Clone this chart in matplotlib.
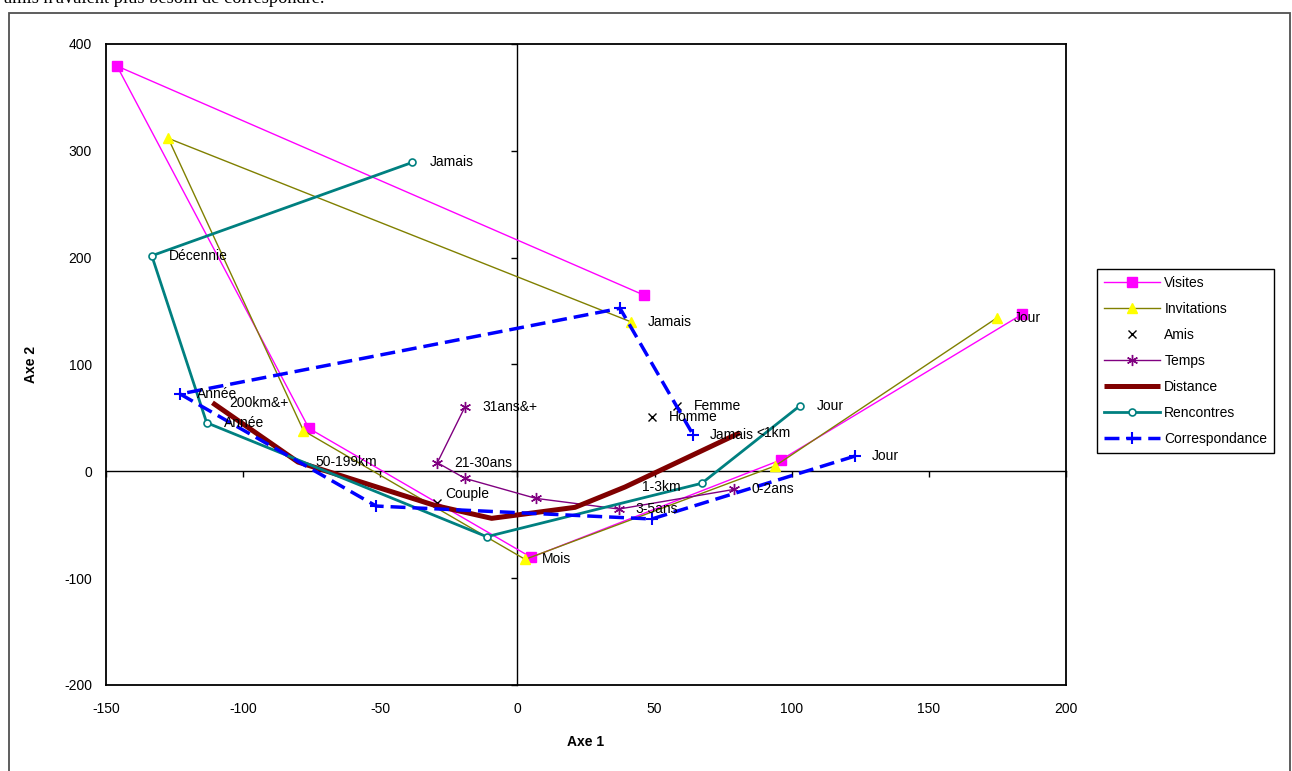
import matplotlib.pyplot as plt
from matplotlib.patches import Rectangle

plt.rcParams['font.family'] = ['Liberation Sans', 'DejaVu Sans']
plt.rcParams['font.size'] = 10
plt.rcParams['axes.unicode_minus'] = False

# Coordonnées des modalités sur les axes 1 et 2
visites_x = [184.0, 96.0, 5.0, -76.0, -146.0, 46.1]
visites_y = [147.0, 10.6, -80.5, 40.2, 379.4, 165.0]
visites_lab = [None, None, None, None, None, None]

invit_x = [174.8, 93.9, 2.8, -78.0, -127.3, 41.3]
invit_y = [143.6, 5.0, -82.4, 38.0, 311.7, 140.0]
invit_lab = ['Jour', None, 'Mois', None, None, 'Jamais']

amis_x = [58.1, 49.2, -29.2]
amis_y = [61.4, 51.1, -30.0]
amis_lab = ['Femme', 'Homme', 'Couple']

temps_x = [79.0, 37.0, 6.7, -19.1, -29.2, -19.1]
temps_y = [-16.9, -35.3, -25.3, -6.6, 8.1, 60.5]
temps_lab = ['0-2ans', '3-5ans', None, None, '21-30ans', '31ans&+']

dist_x = [-111.2, -80.0, -30.0, -9.4, 21.0, 39.2, 81.1]
dist_y = [64.2, 8.7, -32.0, -44.0, -33.7, -14.7, 36.1]
dist_lab = ['200km&+', '50-199km', None, None, None, '1-3km', '<1km']

renc_x = [-38.3, -133.3, -113.3, -11.2, 67.2, 103.0]
renc_y = [289.2, 201.8, 45.5, -61.2, -11.2, 61.4]
renc_lab = ['Jamais', 'Décennie', 'Année', None, None, 'Jour']

corr_x = [123.1, 49.0, -51.5, -123.0, 37.4, 64.1]
corr_y = [14.3, -44.6, -32.5, 72.4, 152.6, 34.0]
corr_lab = ['Jour', None, None, 'Année', None, 'Jamais']

# décalages particuliers des étiquettes (en points)
decalage = {'Couple': (6, 7)}

xmin, xmax = -150, 200
ymin, ymax = -200, 400

fig = plt.figure(figsize=(12.92, 7.71), dpi=100)
ax = fig.add_axes([106 / 1292, 1 - 685 / 771, 960 / 1292, 641 / 771])

ax.plot(visites_x, visites_y, color='#FF00FF', lw=1.0, marker='s', ms=6.7,
        mfc='#FF00FF', mec='#FF00FF', label='Visites', zorder=3)
ax.plot(invit_x, invit_y, color='#808000', lw=1.0, marker='^', ms=7.5,
        mfc='#FFFF00', mec='#FFFF00', label='Invitations', zorder=4)
ax.plot(amis_x, amis_y, ls='none', marker='x', ms=6, mew=1.0,
        color='black', label='Amis', zorder=5)
ax.plot(temps_x, temps_y, color='#800080', lw=1.0, marker=(6, 2, 0), ms=8,
        mew=1.0, label='Temps', zorder=6)
ax.plot(dist_x, dist_y, color='#800000', lw=3.6, label='Distance', zorder=7,
        solid_capstyle='butt')
ax.plot(renc_x, renc_y, color='#008080', lw=2.0, marker='o', ms=5,
        mfc='white', mec='#008080', mew=1.2, label='Rencontres', zorder=8)
ax.plot(corr_x, corr_y, color='#0000FF', lw=2.5, dashes=(4.3, 2),
        marker='+', ms=9, mew=1.5, label='Correspondance', zorder=9)

for xs, ys, labs in [(visites_x, visites_y, visites_lab),
                     (invit_x, invit_y, invit_lab),
                     (amis_x, amis_y, amis_lab),
                     (temps_x, temps_y, temps_lab),
                     (dist_x, dist_y, dist_lab),
                     (renc_x, renc_y, renc_lab),
                     (corr_x, corr_y, corr_lab)]:
    for x, y, t in zip(xs, ys, labs):
        if t is None:
            continue
        ax.annotate(t, (x, y), xytext=decalage.get(t, (12.2, 0)),
                    textcoords='offset points', ha='left', va='center',
                    fontsize=10, color='black', zorder=10)

ax.set_xlim(xmin, xmax)
ax.set_ylim(ymin, ymax)
ax.set_xticks(range(xmin, xmax + 1, 50))
ax.set_yticks(range(ymin, ymax + 1, 100))
ax.tick_params(length=0, labelsize=10)
ax.tick_params(axis='x', pad=12)
ax.tick_params(axis='y', pad=10)
for sp in ax.spines.values():
    sp.set_linewidth(1.3)
ax.set_xlabel('Axe 1', fontweight='bold', fontsize=10, labelpad=14)
ax.set_ylabel('Axe 2', fontweight='bold', fontsize=10, labelpad=19)

# axes passant par l'origine, avec graduations
sx = ax.secondary_xaxis((0 - ymin) / (ymax - ymin))
sx.set_xticks(range(xmin, xmax + 1, 50))
sx.tick_params(length=4, width=1, labelbottom=False, labeltop=False, direction='out')
sy = ax.secondary_yaxis((0 - xmin) / (xmax - xmin))
sy.set_yticks(range(ymin, ymax + 1, 100))
sy.tick_params(length=4, width=1, labelleft=False, labelright=False, direction='out')
for s in (sx, sy):
    for sp in s.spines.values():
        sp.set_linewidth(1.0)

fig.legend(loc='upper left', bbox_to_anchor=(1097 / 1292, 1 - 269 / 771),
           borderaxespad=0, fancybox=False, edgecolor='black', framealpha=1,
           handlelength=4, handletextpad=0.35, labelspacing=0.86,
           borderpad=0.5, fontsize=10)

# cadre du graphique et fin du paragraphe au-dessus
fig.add_artist(Rectangle((9 / 1292, -0.05), 1281 / 1292, 1.05 - 13 / 771,
                         transform=fig.transFigure, fill=False,
                         edgecolor='#505050', lw=1.3))
fig.text(4 / 1292, 1 - 3 / 771, "amis n'avaient plus besoin de correspondre.",
         family='Liberation Serif', fontsize=13.2, va='baseline', ha='left')

fig.savefig('out.png', dpi=100)
